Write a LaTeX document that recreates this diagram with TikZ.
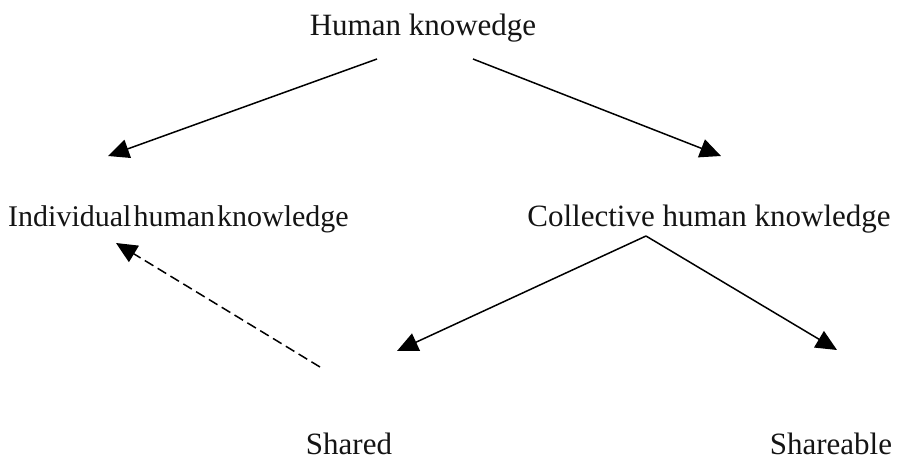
\documentclass[tikz,border=0pt]{standalone}
\usepackage{fontspec}
\setmainfont{Liberation Serif}
\usetikzlibrary{arrows.meta}
\begin{document}
\begin{tikzpicture}[x=1pt,y=-1pt,
  label/.style={inner sep=0pt,anchor=base,font=\fontsize{31}{37}\selectfont,text=black!92},
  link/.style={line width=1.5pt,-{Triangle[length=21pt,width=19pt]}},
  dashlink/.style={link,dash pattern=on 10pt off 5pt}]
  \useasboundingbox (0,0) rectangle (898,460);

  % labels
  \node[label] (hk) at (423,36) {Human knowedge};
  \node[label,anchor=base west,font=\fontsize{30}{36}\selectfont] (ind) at (8,226) {Individual\hspace{2pt}human\hspace{2pt}knowledge};
  \node[label] (col) at (709,226) {Collective human knowledge};
  \node[label] (sh) at (349,454) {Shared};
  \node[label] (sha) at (831,454) {Shareable};

  % connector ends
  \coordinate (hkL) at (377,59);
  \coordinate (hkR) at (473,59);
  \coordinate (indT) at (108,156);
  \coordinate (colT) at (721,156);
  \coordinate (colB) at (646,236);
  \coordinate (shT) at (397,351);
  \coordinate (shaT) at (837,350);
  \coordinate (shL) at (320,367);
  \coordinate (indB) at (116,243);

  % connectors
  \draw[link] (hkL) -- (indT);
  \draw[link] (hkR) -- (colT);
  \draw[link] (colB) -- (shT);
  \draw[link] (colB) -- (shaT);
  \draw[dashlink] (shL) -- (indB);
\end{tikzpicture}
\end{document}
